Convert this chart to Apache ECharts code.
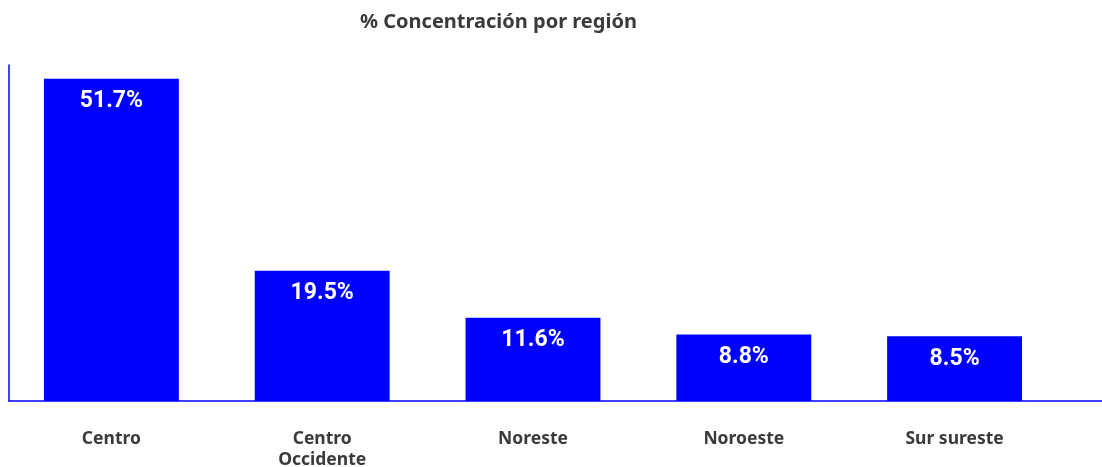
<!DOCTYPE html>
<html>
<head>
    <meta charset="utf-8">
    <title>% Concentración por región</title>
    <script src="https://cdn.jsdelivr.net/npm/echarts@6/dist/echarts.min.js"></script>
    <style>
        html, body { margin: 0; padding: 0; background: #fff; }
        #main { width: 1102px; height: 467px; }
    </style>
</head>
<body>
<div id="main"></div>
<script>
// datos
var regiones = ['Centro', 'Centro\nOccidente', 'Noreste', 'Noroeste', 'Sur sureste'];
var porcentajes = [51.7, 19.5, 11.6, 8.8, 8.5];

// escala del eje vertical (sin etiquetas en el original)
var yMin = -2.35;
var yMax = 54;

var chart = echarts.init(document.getElementById('main'));

var option = {
    animation: false,
    title: {
        text: '% Concentración por región',
        left: 355,
        top: 7,
        textStyle: {
            fontFamily: 'Noto Sans',
            fontWeight: 'bold',
            fontSize: 20,
            color: '#3a3a3a'
        }
    },
    grid: [{
        left: 6,
        right: 42,
        top: 65,
        bottom: 66,
        outerBoundsMode: 'none'
    }, {
        // solo para las lineas de los ejes
        left: 9,
        right: 0,
        top: 65,
        bottom: 66,
        outerBoundsMode: 'none'
    }],
    xAxis: [{
        type: 'category',
        gridIndex: 0,
        data: regiones,
        axisLine: { show: false },
        axisTick: { show: false },
        axisLabel: {
            margin: 28,
            fontFamily: 'Noto Sans',
            fontWeight: 'bold',
            fontSize: 17.5,
            lineHeight: 21,
            color: '#3a3a3a'
        }
    }, {
        type: 'value',
        gridIndex: 1,
        min: 0,
        max: 1,
        axisLine: { show: true, lineStyle: { color: '#0000ff', width: 1.5 } },
        axisTick: { show: false },
        axisLabel: { show: false },
        splitLine: { show: false }
    }],
    yAxis: [{
        type: 'value',
        gridIndex: 0,
        min: yMin,
        max: yMax,
        show: false
    }, {
        type: 'value',
        gridIndex: 1,
        min: 0,
        max: 1,
        axisLine: { show: true, lineStyle: { color: '#0000ff', width: 1.5 } },
        axisTick: { show: false },
        axisLabel: { show: false },
        splitLine: { show: false }
    }],
    series: [{
        type: 'custom',
        xAxisIndex: 0,
        yAxisIndex: 0,
        data: porcentajes.map(function (v, i) { return [i, v]; }),
        renderItem: function (params, api) {
            var v = api.value(1);
            var top = api.coord([api.value(0), v]);
            var base = api.coord([api.value(0), yMin]);
            var w = api.size([1, 0])[0] * 0.64;
            return {
                type: 'group',
                children: [{
                    type: 'rect',
                    shape: { x: top[0] - w / 2, y: top[1], width: w, height: base[1] - top[1] },
                    style: { fill: '#0000ff' }
                }, {
                    type: 'text',
                    x: top[0],
                    y: top[1] + 11,
                    style: {
                        text: v.toFixed(1) + '%',
                        fill: '#ffffff',
                        font: 'bold 23px Roboto',
                        align: 'center',
                        verticalAlign: 'top'
                    }
                }]
            };
        }
    }]
};
chart.setOption(option);
</script>
</body>
</html>
